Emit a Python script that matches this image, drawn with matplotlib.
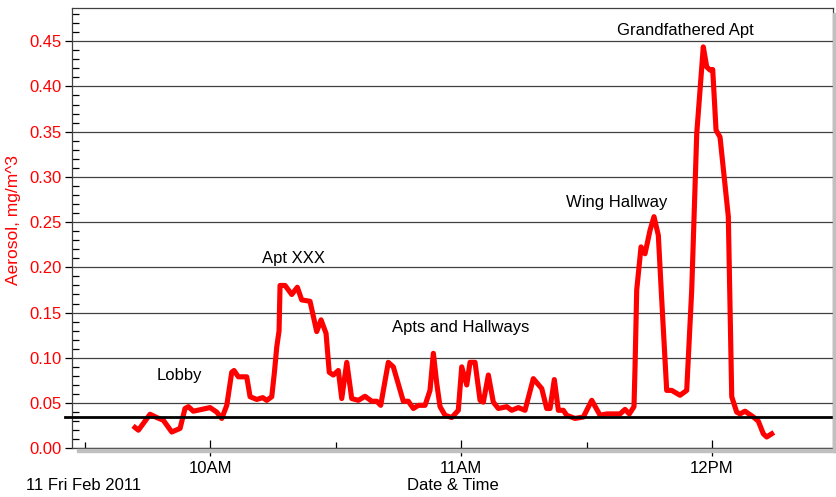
import pandas as pd
import matplotlib
matplotlib.use("Agg")
import matplotlib.pyplot as plt
import matplotlib.dates as mdates
from matplotlib.patches import Rectangle
from matplotlib.ticker import MultipleLocator

plt.rcParams['font.family'] = ['Liberation Sans', 'DejaVu Sans']

# aerosol readings, 11 Feb 2011
times = ["09:42:04", "09:42:52", "09:45:39", "09:47:15", "09:48:50", "09:50:51",
         "09:52:50", "09:54:01", "09:54:49", "09:56:00", "09:58:01", "10:00:00",
         "10:01:36", "10:02:48", "10:04:00", "10:05:11", "10:05:44", "10:06:46",
         "10:08:46", "10:09:34", "10:11:10", "10:12:36", "10:13:33", "10:14:45",
         "10:15:22", "10:15:57", "10:16:30", "10:16:44", "10:17:56", "10:19:32",
         "10:20:52", "10:21:55", "10:23:54", "10:25:30", "10:26:32", "10:27:44",
         "10:28:30", "10:29:28", "10:30:40", "10:31:29", "10:32:41", "10:33:52",
         "10:35:27", "10:37:03", "10:38:39", "10:39:51", "10:40:48", "10:42:37",
         "10:43:49", "10:46:12", "10:47:24", "10:48:36", "10:49:48", "10:51:24",
         "10:52:35", "10:53:23", "10:54:12", "10:54:59", "10:56:11", "10:57:47",
         "10:59:21", "11:00:10", "11:01:22", "11:02:09", "11:03:21", "11:04:33",
         "11:05:20", "11:06:32", "11:07:43", "11:08:55", "11:10:56", "11:12:07",
         "11:13:42", "11:15:18", "11:17:17", "11:19:18", "11:20:29", "11:21:17",
         "11:22:18", "11:23:16", "11:24:27", "11:25:16", "11:27:15", "11:29:14",
         "11:31:15", "11:33:14", "11:34:50", "11:38:01", "11:39:12", "11:40:14",
         "11:41:21", "11:41:36", "11:42:00", "11:43:02", "11:43:59", "11:45:11",
         "11:46:08", "11:47:10", "11:47:59", "11:49:10", "11:50:22", "11:52:21",
         "11:53:57", "11:55:09", "11:56:21", "11:57:55", "11:58:44", "11:59:32",
         "12:00:10", "12:00:58", "12:01:55", "12:03:54", "12:04:43", "12:05:54",
         "12:06:42", "12:07:53", "12:09:53", "12:11:04", "12:12:16", "12:13:05",
         "12:14:16"]
aerosol = [0.023, 0.020, 0.0376, 0.034, 0.031, 0.018,
           0.022, 0.044, 0.046, 0.041, 0.043, 0.045,
           0.040, 0.033, 0.0475, 0.084, 0.086, 0.079,
           0.079, 0.057, 0.054, 0.056, 0.053, 0.057,
           0.083, 0.112, 0.130, 0.180, 0.180, 0.170,
           0.178, 0.164, 0.1625, 0.129, 0.142, 0.127,
           0.084, 0.081, 0.086, 0.055, 0.095, 0.055,
           0.053, 0.0575, 0.052, 0.052, 0.0475, 0.095,
           0.090, 0.052, 0.052, 0.044, 0.0475, 0.0475,
           0.064, 0.105, 0.0715, 0.046, 0.0365, 0.034,
           0.042, 0.090, 0.070, 0.095, 0.095, 0.053,
           0.051, 0.081, 0.051, 0.044, 0.046, 0.042,
           0.045, 0.042, 0.077, 0.066, 0.044, 0.044,
           0.076, 0.042, 0.042, 0.0365, 0.033, 0.0346,
           0.053, 0.0365, 0.038, 0.038, 0.043, 0.038,
           0.046, 0.090, 0.175, 0.2226, 0.215, 0.241,
           0.256, 0.2355, 0.164, 0.064, 0.064, 0.0586,
           0.064, 0.175, 0.348, 0.4437, 0.4216, 0.418,
           0.4187, 0.3516, 0.344, 0.256, 0.057, 0.040,
           0.038, 0.041, 0.0346, 0.030, 0.016, 0.0125,
           0.016]

threshold = 0.035

labels = ["Lobby", "Apt XXX", "Apts and Hallways", "Wing Hallway", "Grandfathered Apt"]
label_times = ["09:52:35", "10:19:50", "11:00:00", "11:37:18", "11:53:33"]
label_values = [0.081, 0.210, 0.133, 0.272, 0.462]

day = "2011-02-11 "
t = pd.to_datetime([day + s for s in times])
lt = pd.to_datetime([day + s for s in label_times])

fig = plt.figure(figsize=(8.37, 4.97), dpi=100)
ax = fig.add_axes([0.0857, 0.098, 0.9099, 0.8865])

# grey drop shadow under and right of the plot box
fig.patches.append(Rectangle((77 / 837, 45 / 497), 760 / 837, 3.5 / 497,
                             transform=fig.transFigure, color='#c0c0c0', zorder=0))
fig.patches.append(Rectangle((833.5 / 837, 45 / 497), 3.5 / 837, 439 / 497,
                             transform=fig.transFigure, color='#c0c0c0', zorder=0))

ax.plot(t, aerosol, color='red', lw=3.7, solid_joinstyle='round', zorder=4)
ax.axhline(threshold, xmin=-0.009, xmax=1, color='black', lw=2, clip_on=False, zorder=5)

for txt, x, y in zip(labels, lt, label_values):
    ax.text(x, y, txt, ha='center', va='center', fontsize=12, color='black')

ax.set_xlim(pd.Timestamp(day + "09:26:56"), pd.Timestamp(day + "12:29:00"))
ax.set_ylim(0, 0.487)

ax.yaxis.set_major_locator(MultipleLocator(0.05))
ax.yaxis.set_minor_locator(MultipleLocator(0.01))
ax.yaxis.set_major_formatter(plt.FuncFormatter(lambda v, p: f"{v:.2f}"))
ax.xaxis.set_major_locator(mdates.HourLocator())
ax.xaxis.set_minor_locator(mdates.MinuteLocator(byminute=[30]))
ax.xaxis.set_major_formatter(mdates.DateFormatter('%I%p'))

ax.grid(True, which='major', axis='y', color='#404040', lw=0.9)
ax.set_axisbelow(True)

ax.tick_params(axis='y', which='major', direction='out', length=5, width=0.9,
               labelsize=12, labelcolor='red', pad=2)
ax.tick_params(axis='y', which='minor', direction='in', length=5, width=0.9)
ax.tick_params(axis='x', which='major', direction='inout', length=12, width=0.9,
               labelsize=12, pad=3)
ax.tick_params(axis='x', which='minor', direction='in', length=4, width=0.9)

for s in ax.spines.values():
    s.set_color('#404040')
    s.set_linewidth(0.9)

ax.set_ylabel("Aerosol, mg/m^3", color='red', fontsize=12.5)
ax.yaxis.set_label_coords(-0.066, 0.518)
fig.text(26 / 837, 1 - 486 / 497, "11 Fri Feb 2011", ha='left', va='center', fontsize=12)
fig.text(453 / 837, 1 - 486 / 497, "Date & Time", ha='center', va='center', fontsize=12)

fig.savefig("out.png", dpi=100)
